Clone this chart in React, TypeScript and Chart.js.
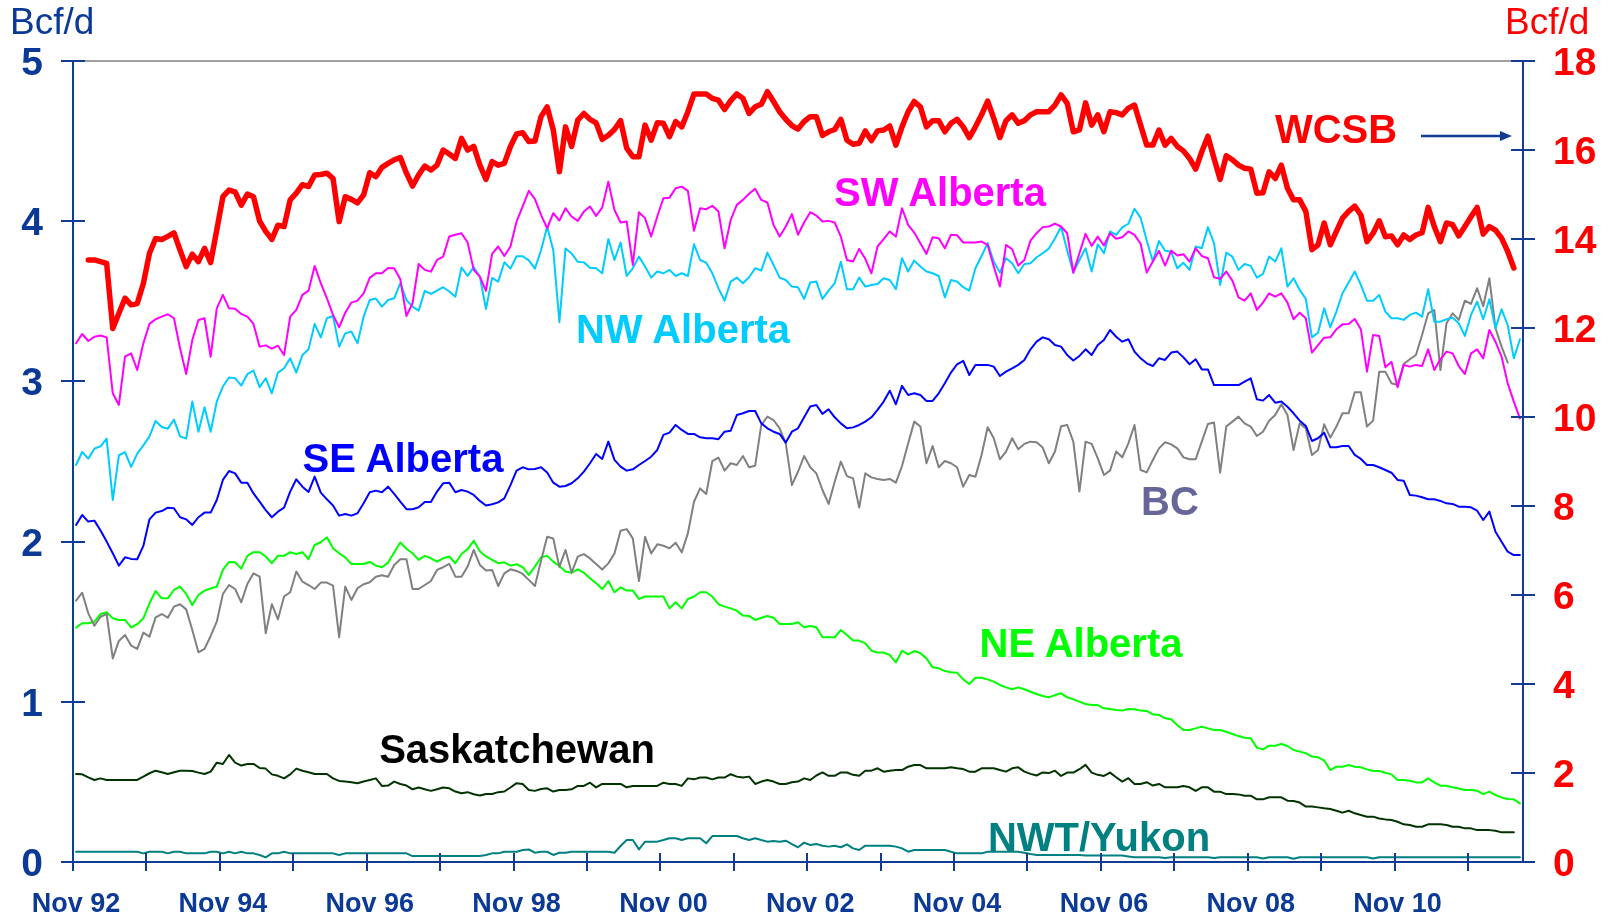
import React, { useEffect, useRef } from "react";
import { Chart, registerables } from "chart.js";

Chart.register(...registerables);

// ---------- categories (monthly, Nov 92 .. Jul 12) ----------
const MONTH_NAMES = ["Jan", "Feb", "Mar", "Apr", "May", "Jun", "Jul", "Aug", "Sep", "Oct", "Nov", "Dec"];
const START_MONTH = 10; // November
const START_YEAR = 1992;
const N_MONTHS = 237;
const CATEGORIES: string[] = Array.from({ length: N_MONTHS }, (_, i) => {
  const m = (START_MONTH + i) % 12;
  const y = START_YEAR + Math.floor((START_MONTH + i) / 12);
  return `${MONTH_NAMES[m]} ${String(y % 100).padStart(2, "0")}`;
});
const X_TICK_LABELS = ["Nov 92", "Nov 94", "Nov 96", "Nov 98", "Nov 00", "Nov 02", "Nov 04", "Nov 06", "Nov 08", "Nov 10"];
const LEFT_TICKS = [0, 1, 2, 3, 4, 5];
const RIGHT_TICKS = [0, 2, 4, 6, 8, 10, 12, 14, 16, 18];

// ---------- series (Bcf/d) ----------
const WCSB: (number | null)[] = [
  null, null, 13.53, 13.53, 13.49, 13.45, 11.99, 12.33, 12.67, 12.52, 12.55,
  13.0, 13.68, 14.01, 13.99, 14.06, 14.14, 13.75, 13.38, 13.66, 13.49,
  13.79, 13.47, 14.2, 14.95, 15.1, 15.06, 14.76, 15.01, 14.95, 14.4,
  14.17, 13.99, 14.31, 14.28, 14.88, 15.03, 15.22, 15.18, 15.44, 15.45,
  15.48, 15.36, 14.39, 14.95, 14.89, 14.81, 14.99, 15.49, 15.4, 15.61,
  15.7, 15.78, 15.83, 15.48, 15.19, 15.44, 15.64, 15.55, 15.66, 16.0,
  15.91, 15.81, 16.26, 16.0, 16.08, 15.66, 15.34, 15.74, 15.66, 15.7,
  16.08, 16.36, 16.39, 16.19, 16.2, 16.75, 16.97, 16.45, 15.51, 16.52,
  16.08, 16.67, 16.82, 16.69, 16.61, 16.24, 16.33, 16.46, 16.66, 16.04,
  15.85, 15.85, 16.56, 16.22, 16.61, 16.6, 16.3, 16.64, 16.52, 16.86,
  17.26, 17.26, 17.26, 17.16, 17.12, 16.91, 17.11, 17.26, 17.16, 16.82,
  16.97, 17.03, 17.31, 17.09, 16.86, 16.69, 16.55, 16.47, 16.64, 16.75,
  16.75, 16.33, 16.41, 16.46, 16.69, 16.22, 16.13, 16.15, 16.43, 16.21,
  16.43, 16.45, 16.54, 16.11, 16.52, 16.86, 17.09, 16.97, 16.52, 16.66,
  16.66, 16.41, 16.6, 16.69, 16.52, 16.28, 16.52, 16.79, 17.1, 16.71,
  16.28, 16.66, 16.79, 16.6, 16.66, 16.79, 16.86, 16.86, 16.86, 17.01,
  17.24, 17.05, 16.41, 16.45, 17.06, 16.56, 16.79, 16.41, 16.86, 16.84,
  16.79, 16.94, 17.01, 16.56, 16.11, 16.11, 16.45, 16.11, 16.26, 16.08,
  15.98, 15.81, 15.57, 15.96, 16.31, 15.81, 15.34, 15.87, 15.78, 15.66,
  15.59, 15.57, 15.03, 15.04, 15.51, 15.36, 15.66, 15.14, 14.88, 14.88,
  14.62, 13.76, 13.87, 14.36, 13.87, 14.17, 14.47, 14.62, 14.74, 14.54,
  13.94, 14.13, 14.41, 14.05, 14.07, 13.87, 14.09, 13.99, 14.09, 14.14,
  14.71, 14.28, 13.94, 14.36, 14.32, 14.07, 14.28, 14.5, 14.71, 14.11,
  14.28, 14.2, 14.02, 13.72, 13.35, null,
];

const SW_ALBERTA: (number | null)[] = [
  3.238, 3.296, 3.252, 3.279, 3.287, 3.275, 2.926, 2.853, 3.154, 3.175,
  3.071, 3.238, 3.359, 3.388, 3.404, 3.419, 3.394, 3.207, 3.046, 3.258,
  3.383, 3.394, 3.154, 3.456, 3.54, 3.456, 3.454, 3.421, 3.404, 3.359,
  3.217, 3.225, 3.204, 3.223, 3.165, 3.404, 3.446, 3.54, 3.567, 3.721,
  3.613, 3.519, 3.415, 3.338, 3.429, 3.492, 3.504, 3.55, 3.646, 3.675,
  3.675, 3.708, 3.706, 3.637, 3.408, 3.488, 3.733, 3.696, 3.685, 3.758,
  3.779, 3.904, 3.915, 3.925, 3.867, 3.696, 3.654, 3.565, 3.796, 3.842,
  3.783, 3.842, 3.998, 4.092, 4.19, 4.138, 4.04, 3.956, 4.05, 4.004,
  4.081, 4.029, 4.002, 4.06, 4.092, 4.033, 4.085, 4.247, 4.07, 3.992,
  3.998, 3.727, 4.056, 4.019, 3.904, 4.029, 4.143, 4.147, 4.206, 4.216,
  4.189, 3.94, 4.081, 4.075, 4.096, 4.06, 3.831, 4.008, 4.102, 4.133,
  4.171, 4.202, 4.133, 4.117, 3.977, 3.904, 3.967, 4.044, 3.915, 3.992,
  4.056, 4.035, 3.998, 4.002, 3.992, 3.904, 3.758, 3.748, 3.827, 3.765,
  3.675, 3.842, 3.888, 3.936, 3.904, 4.081, 3.977, 3.929, 3.863, 3.796,
  3.9, 3.894, 3.831, 3.915, 3.913, 3.867, 3.867, 3.867, 3.873, 3.852,
  3.717, 3.592, 3.852, 3.825, 3.723, 3.758, 3.879, 3.925, 3.963, 3.967,
  3.984, 3.967, 3.925, 3.679, 3.8, 3.921, 3.846, 3.904, 3.848, 3.925,
  3.89, 3.9, 3.936, 3.915, 3.859, 3.679, 3.748, 3.815, 3.723, 3.817,
  3.786, 3.794, 3.748, 3.831, 3.783, 3.769, 3.65, 3.64, 3.686, 3.629,
  3.525, 3.504, 3.55, 3.446, 3.492, 3.55, 3.529, 3.55, 3.492, 3.388,
  3.429, 3.394, 3.18, 3.227, 3.273, 3.275, 3.325, 3.356, 3.358, 3.39,
  3.325, 3.061, 3.29, 3.284, 3.088, 3.123, 2.964, 3.103, 3.092, 3.103,
  3.096, 3.2, 3.071, 3.138, 3.186, 3.175, 3.096, 3.046, 3.175, 3.2,
  3.144, 3.321, 3.248, 3.154, 2.988, 2.874, 2.769,
];

const NW_ALBERTA: (number | null)[] = [
  2.478, 2.559, 2.518, 2.58, 2.595, 2.643, 2.259, 2.539, 2.559, 2.466,
  2.549, 2.601, 2.657, 2.753, 2.715, 2.705, 2.761, 2.657, 2.643, 2.874,
  2.686, 2.838, 2.686, 2.874, 2.968, 3.024, 3.02, 2.974, 3.045, 3.068,
  2.964, 3.02, 2.926, 3.055, 3.082, 3.144, 3.055, 3.165, 3.2, 3.359,
  3.275, 3.394, 3.408, 3.217, 3.3, 3.311, 3.238, 3.404, 3.508, 3.517,
  3.467, 3.508, 3.519, 3.613, 3.508, 3.467, 3.442, 3.565, 3.546, 3.567,
  3.588, 3.561, 3.529, 3.711, 3.659, 3.713, 3.654, 3.452, 3.646, 3.623,
  3.744, 3.704, 3.781, 3.781, 3.756, 3.704, 3.819, 3.965, 3.819, 3.369,
  3.829, 3.798, 3.747, 3.743, 3.71, 3.706, 3.675, 3.889, 3.758, 3.867,
  3.658, 3.706, 3.779, 3.717, 3.648, 3.686, 3.675, 3.696, 3.658, 3.675,
  3.658, 3.856, 3.758, 3.741, 3.675, 3.581, 3.504, 3.623, 3.648, 3.613,
  3.65, 3.706, 3.692, 3.804, 3.727, 3.648, 3.633, 3.592, 3.588, 3.515,
  3.617, 3.623, 3.515, 3.567, 3.613, 3.747, 3.575, 3.575, 3.648, 3.592,
  3.602, 3.608, 3.644, 3.633, 3.575, 3.769, 3.686, 3.754, 3.717, 3.686,
  3.675, 3.658, 3.525, 3.633, 3.623, 3.588, 3.567, 3.706, 3.783, 3.863,
  3.747, 3.679, 3.769, 3.738, 3.675, 3.733, 3.738, 3.775, 3.8, 3.829,
  3.892, 3.965, 3.817, 3.679, 3.758, 3.831, 3.686, 3.856, 3.8, 3.936,
  3.915, 3.961, 3.984, 4.078, 4.021, 3.88, 3.748, 3.877, 3.815, 3.809,
  3.706, 3.74, 3.696, 3.842, 3.831, 3.963, 3.863, 3.602, 3.804, 3.779,
  3.696, 3.733, 3.721, 3.648, 3.671, 3.779, 3.748, 3.831, 3.592, 3.644,
  3.571, 3.515, 3.275, 3.304, 3.456, 3.338, 3.436, 3.55, 3.617, 3.686,
  3.602, 3.504, 3.504, 3.54, 3.436, 3.394, 3.394, 3.384, 3.415, 3.429,
  3.404, 3.575, 3.373, 3.373, 3.388, 3.398, 3.363, 3.284, 3.415, 3.498,
  3.388, 3.513, 3.332, 3.45, 3.352, 3.144, 3.263,
];

const SE_ALBERTA: (number | null)[] = [
  2.104, 2.166, 2.125, 2.131, 2.069, 2.0, 1.927, 1.85, 1.902, 1.892,
  1.89, 1.973, 2.139, 2.181, 2.191, 2.212, 2.208, 2.152, 2.139, 2.104,
  2.152, 2.181, 2.181, 2.26, 2.385, 2.441, 2.426, 2.368, 2.368, 2.301,
  2.249, 2.197, 2.152, 2.187, 2.212, 2.312, 2.389, 2.343, 2.31, 2.406,
  2.306, 2.264, 2.225, 2.162, 2.172, 2.162, 2.177, 2.239, 2.308, 2.318,
  2.308, 2.343, 2.298, 2.249, 2.202, 2.202, 2.214, 2.247, 2.247, 2.312,
  2.364, 2.368, 2.308, 2.322, 2.312, 2.291, 2.254, 2.225, 2.233, 2.245,
  2.27, 2.353, 2.443, 2.464, 2.451, 2.453, 2.464, 2.431, 2.368, 2.343,
  2.347, 2.364, 2.395, 2.437, 2.489, 2.547, 2.516, 2.624, 2.51, 2.468,
  2.443, 2.451, 2.478, 2.503, 2.53, 2.572, 2.666, 2.68, 2.728, 2.697,
  2.672, 2.672, 2.651, 2.645, 2.645, 2.639, 2.686, 2.692, 2.79, 2.801,
  2.815, 2.815, 2.738, 2.707, 2.686, 2.672, 2.618, 2.686, 2.707, 2.776,
  2.843, 2.853, 2.797, 2.826, 2.776, 2.738, 2.707, 2.713, 2.728, 2.749,
  2.776, 2.822, 2.874, 2.942, 2.857, 2.972, 2.915, 2.926, 2.915, 2.878,
  2.878, 2.926, 2.988, 3.055, 3.107, 3.128, 3.04, 3.103, 3.103, 3.103,
  3.092, 3.034, 3.061, 3.082, 3.103, 3.134, 3.2, 3.248, 3.275, 3.263,
  3.227, 3.217, 3.165, 3.13, 3.159, 3.2, 3.165, 3.227, 3.259, 3.321,
  3.279, 3.248, 3.263, 3.186, 3.144, 3.113, 3.096, 3.144, 3.134, 3.18,
  3.186, 3.15, 3.107, 3.138, 3.075, 3.075, 2.977, 2.977, 2.977, 2.977,
  2.977, 2.998, 3.019, 2.888, 2.88, 2.915, 2.867, 2.874, 2.842, 2.801,
  2.755, 2.722, 2.628, 2.645, 2.68, 2.589, 2.589, 2.597, 2.597, 2.541,
  2.516, 2.478, 2.478, 2.464, 2.447, 2.43, 2.385, 2.38, 2.291, 2.287,
  2.277, 2.264, 2.264, 2.254, 2.239, 2.235, 2.218, 2.218, 2.214, 2.193,
  2.135, 2.187, 2.062, 1.999, 1.937, 1.916, 1.916,
];

const BC: (number | null)[] = [
  1.631, 1.681, 1.552, 1.475, 1.531, 1.548, 1.271, 1.38, 1.417, 1.351,
  1.33, 1.432, 1.407, 1.527, 1.548, 1.525, 1.594, 1.609, 1.577, 1.448,
  1.309, 1.33, 1.411, 1.5, 1.673, 1.729, 1.704, 1.621, 1.736, 1.802,
  1.781, 1.428, 1.609, 1.515, 1.657, 1.684, 1.813, 1.75, 1.729, 1.704,
  1.744, 1.744, 1.725, 1.403, 1.719, 1.636, 1.709, 1.734, 1.746, 1.781,
  1.79, 1.781, 1.854, 1.89, 1.89, 1.704, 1.704, 1.729, 1.754, 1.823,
  1.84, 1.861, 1.781, 1.781, 1.844, 1.948, 1.854, 1.819, 1.823, 1.723,
  1.802, 1.827, 1.817, 1.798, 1.761, 1.723, 1.88, 2.03, 2.019, 1.842,
  1.948, 1.806, 1.906, 1.922, 1.895, 1.86, 1.826, 1.864, 1.926, 2.068,
  2.078, 2.02, 1.754, 2.03, 1.926, 1.983, 1.974, 1.958, 1.993, 1.933,
  2.051, 2.249, 2.332, 2.297, 2.503, 2.524, 2.443, 2.489, 2.478, 2.534,
  2.464, 2.474, 2.728, 2.78, 2.759, 2.707, 2.613, 2.353, 2.436, 2.534,
  2.464, 2.426, 2.322, 2.235, 2.374, 2.499, 2.409, 2.395, 2.212, 2.426,
  2.401, 2.391, 2.385, 2.391, 2.368, 2.472, 2.613, 2.749, 2.718, 2.489,
  2.597, 2.464, 2.503, 2.489, 2.464, 2.343, 2.416, 2.405, 2.541, 2.714,
  2.645, 2.514, 2.562, 2.645, 2.576, 2.61, 2.624, 2.62, 2.587, 2.489,
  2.562, 2.72, 2.728, 2.624, 2.312, 2.624, 2.61, 2.52, 2.416, 2.443,
  2.562, 2.526, 2.613, 2.728, 2.447, 2.432, 2.509, 2.582, 2.62, 2.607,
  2.582, 2.526, 2.514, 2.514, 2.624, 2.734, 2.743, 2.43, 2.718, 2.749,
  2.78, 2.738, 2.718, 2.659, 2.686, 2.755, 2.79, 2.857, 2.79, 2.572,
  2.738, 2.707, 2.541, 2.572, 2.732, 2.649, 2.718, 2.801, 2.801, 2.932,
  2.932, 2.718, 2.755, 3.061, 3.061, 2.988, 2.977, 3.109, 3.138, 3.165,
  3.29, 3.425, 3.446, 3.071, 3.363, 3.425, 3.384, 3.504, 3.484, 3.582,
  3.469, 3.644, 3.332, 3.217, 3.117, null, null,
];

const NE_ALBERTA: (number | null)[] = [
  1.463, 1.49, 1.49, 1.5, 1.548, 1.559, 1.521, 1.511, 1.511, 1.465,
  1.484, 1.521, 1.615, 1.692, 1.646, 1.646, 1.698, 1.719, 1.673, 1.604,
  1.667, 1.694, 1.707, 1.719, 1.823, 1.873, 1.871, 1.831, 1.911, 1.934,
  1.934, 1.907, 1.865, 1.911, 1.911, 1.934, 1.923, 1.934, 1.89, 1.979,
  1.996, 2.027, 1.958, 1.927, 1.902, 1.86, 1.86, 1.86, 1.873, 1.85,
  1.84, 1.869, 1.932, 1.994, 1.955, 1.927, 1.886, 1.911, 1.896, 1.875,
  1.896, 1.907, 1.865, 1.923, 1.953, 2.005, 1.94, 1.907, 1.886, 1.865,
  1.871, 1.85, 1.859, 1.84, 1.792, 1.844, 1.902, 1.911, 1.875, 1.848,
  1.813, 1.806, 1.827, 1.806, 1.771, 1.74, 1.704, 1.754, 1.684, 1.715,
  1.694, 1.694, 1.642, 1.657, 1.657, 1.657, 1.657, 1.583, 1.621, 1.583,
  1.642, 1.657, 1.684, 1.684, 1.657, 1.609, 1.594, 1.583, 1.569, 1.538,
  1.536, 1.511, 1.525, 1.536, 1.525, 1.486, 1.486, 1.486, 1.496, 1.465,
  1.473, 1.465, 1.403, 1.403, 1.403, 1.448, 1.417, 1.382, 1.382, 1.365,
  1.319, 1.307, 1.307, 1.292, 1.246, 1.319, 1.296, 1.317, 1.303, 1.271,
  1.215, 1.209, 1.192, 1.184, 1.182, 1.14, 1.111, 1.15, 1.15, 1.14,
  1.126, 1.105, 1.09, 1.078, 1.09, 1.078, 1.063, 1.049, 1.036, 1.028,
  1.042, 1.053, 1.028, 1.015, 1.001, 0.986, 0.98, 0.98, 0.959, 0.955,
  0.949, 0.945, 0.955, 0.953, 0.945, 0.943, 0.922, 0.918, 0.897, 0.891,
  0.855, 0.824, 0.824, 0.834, 0.845, 0.834, 0.824, 0.824, 0.813, 0.799,
  0.786, 0.776, 0.772, 0.714, 0.703, 0.726, 0.726, 0.737, 0.724, 0.699,
  0.689, 0.679, 0.658, 0.654, 0.633, 0.574, 0.595, 0.595, 0.606, 0.595,
  0.591, 0.578, 0.568, 0.568, 0.557, 0.547, 0.512, 0.512, 0.507, 0.497,
  0.497, 0.522, 0.497, 0.476, 0.476, 0.466, 0.459, 0.449, 0.449, 0.445,
  0.424, 0.439, 0.418, 0.403, 0.393, 0.391, 0.366,
];

const SASKATCHEWAN: (number | null)[] = [
  0.549, 0.547, 0.528, 0.512, 0.522, 0.512, 0.512, 0.512, 0.512, 0.512,
  0.512, 0.533, 0.554, 0.57, 0.56, 0.549, 0.56, 0.57, 0.57, 0.568,
  0.558, 0.549, 0.564, 0.62, 0.612, 0.668, 0.62, 0.602, 0.612, 0.612,
  0.587, 0.583, 0.547, 0.538, 0.522, 0.547, 0.583, 0.57, 0.56, 0.549,
  0.549, 0.549, 0.522, 0.506, 0.502, 0.498, 0.492, 0.502, 0.512, 0.522,
  0.475, 0.477, 0.502, 0.487, 0.477, 0.454, 0.465, 0.454, 0.444, 0.454,
  0.465, 0.46, 0.44, 0.429, 0.436, 0.423, 0.415, 0.425, 0.425, 0.436,
  0.44, 0.465, 0.492, 0.487, 0.45, 0.444, 0.456, 0.46, 0.44, 0.45,
  0.45, 0.454, 0.475, 0.475, 0.495, 0.466, 0.487, 0.487, 0.487, 0.487,
  0.466, 0.475, 0.475, 0.475, 0.475, 0.475, 0.495, 0.487, 0.487, 0.475,
  0.522, 0.516, 0.527, 0.527, 0.516, 0.527, 0.527, 0.548, 0.533, 0.527,
  0.533, 0.487, 0.502, 0.512, 0.502, 0.487, 0.487, 0.498, 0.502, 0.522,
  0.512, 0.54, 0.559, 0.538, 0.538, 0.559, 0.559, 0.544, 0.538, 0.57,
  0.57, 0.585, 0.564, 0.57, 0.574, 0.574, 0.595, 0.605, 0.605, 0.585,
  0.585, 0.585, 0.585, 0.591, 0.585, 0.58, 0.564, 0.564, 0.585, 0.585,
  0.585, 0.574, 0.564, 0.585, 0.591, 0.564, 0.55, 0.54, 0.559, 0.555,
  0.57, 0.537, 0.558, 0.558, 0.579, 0.606, 0.558, 0.544, 0.537, 0.558,
  0.529, 0.502, 0.523, 0.487, 0.487, 0.498, 0.477, 0.487, 0.466, 0.466,
  0.466, 0.475, 0.466, 0.444, 0.466, 0.466, 0.439, 0.439, 0.424, 0.424,
  0.422, 0.414, 0.414, 0.391, 0.391, 0.404, 0.404, 0.404, 0.383, 0.381,
  0.371, 0.346, 0.346, 0.341, 0.335, 0.331, 0.32, 0.308, 0.32, 0.304,
  0.293, 0.283, 0.283, 0.272, 0.266, 0.262, 0.251, 0.235, 0.231, 0.22,
  0.22, 0.235, 0.235, 0.235, 0.231, 0.22, 0.22, 0.21, 0.21, 0.199,
  0.199, 0.199, 0.195, 0.185, 0.185, 0.185, null,
];

const NWT_YUKON: (number | null)[] = [
  0.064, 0.064, 0.064, 0.064, 0.064, 0.064, 0.064, 0.064, 0.064, 0.064,
  0.064, 0.054, 0.064, 0.064, 0.064, 0.054, 0.064, 0.064, 0.054, 0.054,
  0.054, 0.054, 0.064, 0.064, 0.054, 0.064, 0.054, 0.064, 0.054, 0.054,
  0.044, 0.029, 0.054, 0.054, 0.064, 0.054, 0.054, 0.054, 0.054, 0.054,
  0.054, 0.054, 0.054, 0.044, 0.054, 0.054, 0.054, 0.054, 0.054, 0.054,
  0.054, 0.054, 0.054, 0.054, 0.054, 0.037, 0.037, 0.037, 0.037, 0.037,
  0.037, 0.037, 0.037, 0.037, 0.037, 0.037, 0.037, 0.044, 0.054, 0.054,
  0.064, 0.064, 0.064, 0.075, 0.078, 0.058, 0.064, 0.064, 0.044, 0.058,
  0.058, 0.064, 0.064, 0.064, 0.064, 0.064, 0.064, 0.064, 0.058, 0.1,
  0.137, 0.137, 0.079, 0.127, 0.127, 0.127, 0.137, 0.148, 0.148, 0.137,
  0.148, 0.148, 0.148, 0.117, 0.162, 0.162, 0.162, 0.162, 0.162, 0.148,
  0.137, 0.148, 0.137, 0.127, 0.131, 0.127, 0.133, 0.112, 0.092, 0.121,
  0.106, 0.112, 0.102, 0.096, 0.102, 0.092, 0.11, 0.085, 0.075, 0.102,
  0.102, 0.102, 0.102, 0.102, 0.096, 0.085, 0.064, 0.075, 0.075, 0.075,
  0.075, 0.075, 0.075, 0.064, 0.054, 0.054, 0.054, 0.054, 0.054, 0.064,
  0.064, 0.064, 0.064, 0.064, 0.064, 0.058, 0.05, 0.044, 0.044, 0.044,
  0.044, 0.044, 0.044, 0.044, 0.044, 0.04, 0.04, 0.04, 0.04, 0.04,
  0.04, 0.04, 0.035, 0.03, 0.03, 0.03, 0.03, 0.03, 0.025, 0.03,
  0.03, 0.03, 0.03, 0.03, 0.03, 0.03, 0.025, 0.03, 0.03, 0.03,
  0.03, 0.03, 0.03, 0.03, 0.022, 0.03, 0.03, 0.03, 0.03, 0.02,
  0.03, 0.03, 0.03, 0.03, 0.03, 0.03, 0.03, 0.03, 0.03, 0.03,
  0.03, 0.03, 0.022, 0.03, 0.03, 0.03, 0.03, 0.03, 0.03, 0.03,
  0.03, 0.03, 0.03, 0.03, 0.03, 0.03, 0.03, 0.03, 0.03, 0.03,
  0.03, 0.03, 0.03, 0.03, 0.03, 0.03, 0.03,
];

// ---------- styling ----------
const W = 1616;
const H = 918;
const AXIS_COLOR = "#123C94";
const LABEL_BLUE = "#0B3A96";
const FONT = "'Liberation Sans', Arial, Helvetica, sans-serif";
const PLOT = { left: 73, right: 1523, top: 61, bottom: 862 };
const TICK_FONT_SIZE = 39;
const TICK_LABEL_GAP = 30;

type SeriesDef = { name: string; data: (number | null)[]; color: string; width: number; axis: string };
const SERIES: SeriesDef[] = [
  { name: "WCSB", data: WCSB, color: "#FF0000", width: 5.5, axis: "y2" },
  { name: "SW Alberta", data: SW_ALBERTA, color: "#FF00FF", width: 2, axis: "y" },
  { name: "NW Alberta", data: NW_ALBERTA, color: "#00CCFF", width: 2, axis: "y" },
  { name: "SE Alberta", data: SE_ALBERTA, color: "#0000FF", width: 2, axis: "y" },
  { name: "BC", data: BC, color: "#808080", width: 2, axis: "y" },
  { name: "NE Alberta", data: NE_ALBERTA, color: "#00FF00", width: 2, axis: "y" },
  { name: "Saskatchewan", data: SASKATCHEWAN, color: "#003300", width: 2, axis: "y" },
  { name: "NWT/Yukon", data: NWT_YUKON, color: "#008080", width: 2, axis: "y" },
];

const SERIES_LABELS = [
  { text: "WCSB", color: "#FF0000", x: 1336, y: 129 },
  { text: "SW Alberta", color: "#FF00FF", x: 940, y: 192 },
  { text: "NW Alberta", color: "#00CCFF", x: 683, y: 329 },
  { text: "SE Alberta", color: "#0000FF", x: 403, y: 458 },
  { text: "BC", color: "#666699", x: 1170, y: 501 },
  { text: "NE Alberta", color: "#00FF00", x: 1081, y: 643 },
  { text: "Saskatchewan", color: "#000000", x: 517, y: 749 },
  { text: "NWT/Yukon", color: "#008080", x: 1099, y: 837 },
];

const X_LABEL_INDEX = X_TICK_LABELS.map((l) => CATEGORIES.indexOf(l));
const YEAR_TICK_POS = CATEGORIES.map((c, i) => (c.startsWith("Nov") ? i - 0.5 : null)).filter(
  (v): v is number => v !== null
);

// Crossing tick marks on all three axes plus y-axis numbers (cap-centred on the value).
const axisDecor = {
  id: "axisDecor",
  afterDraw(chart: any) {
    const { ctx, scales } = chart;
    const x = scales.x;
    const y = scales.y;
    const y2 = scales.y2;
    ctx.save();
    ctx.strokeStyle = AXIS_COLOR;
    ctx.lineWidth = 2;
    ctx.beginPath();
    const lx = x.getPixelForValue(x.min);
    const rx = x.getPixelForValue(x.max);
    LEFT_TICKS.forEach((v) => {
      const py = Math.round(y.getPixelForValue(v));
      ctx.moveTo(lx - 12, py);
      ctx.lineTo(lx + 12, py);
    });
    RIGHT_TICKS.forEach((v) => {
      const py = Math.round(y2.getPixelForValue(v));
      ctx.moveTo(rx - 12, py);
      ctx.lineTo(rx + 12, py);
    });
    const by = y.getPixelForValue(0);
    YEAR_TICK_POS.forEach((v) => {
      const px = Math.round(x.getPixelForValue(v));
      ctx.moveTo(px, by - 9);
      ctx.lineTo(px, by + 9);
    });
    ctx.stroke();

    ctx.font = `bold ${TICK_FONT_SIZE}px ${FONT}`;
    ctx.textBaseline = "alphabetic";
    const capHalf = TICK_FONT_SIZE * 0.358;
    ctx.fillStyle = LABEL_BLUE;
    ctx.textAlign = "right";
    LEFT_TICKS.forEach((v) => {
      ctx.fillText(String(v), lx - TICK_LABEL_GAP, y.getPixelForValue(v) + capHalf);
    });
    ctx.fillStyle = "#FF0000";
    ctx.textAlign = "left";
    RIGHT_TICKS.forEach((v) => {
      ctx.fillText(String(v), rx + TICK_LABEL_GAP, y2.getPixelForValue(v) + capHalf);
    });
    ctx.restore();
  },
};

export default function App() {
  const canvasRef = useRef<HTMLCanvasElement | null>(null);

  useEffect(() => {
    if (!canvasRef.current) return;
    const datasets = SERIES.map((s) => ({
      label: s.name,
      data: s.data.map((v, i) => ({ x: i, y: v })),
      borderColor: s.color,
      backgroundColor: s.color,
      borderWidth: s.width,
      pointRadius: 0,
      tension: 0,
      spanGaps: false,
      yAxisID: s.axis,
      borderJoinStyle: "round" as const,
      borderCapStyle: "round" as const,
    }));

    const chart = new Chart(canvasRef.current, {
      type: "line",
      data: { datasets },
      plugins: [axisDecor],
      options: {
        animation: false,
        responsive: true,
        maintainAspectRatio: false,
        devicePixelRatio: 1,
        layout: { padding: { top: PLOT.top, left: 0, right: 0, bottom: 0 } },
        plugins: { legend: { display: false }, tooltip: { enabled: false } },
        scales: {
          x: {
            type: "linear",
            position: "bottom",
            min: -0.5,
            max: N_MONTHS - 0.5,
            afterBuildTicks: (axis: any) => {
              axis.ticks = X_LABEL_INDEX.map((v) => ({ value: v }));
            },
            afterFit: (axis: any) => {
              axis.height = H - PLOT.bottom;
            },
            ticks: {
              autoSkip: false,
              maxRotation: 0,
              padding: 26,
              color: LABEL_BLUE,
              font: { family: FONT, size: 27, weight: "bold" },
              callback: (value: any) => CATEGORIES[Math.round(Number(value))] ?? "",
            },
            grid: { display: false, drawTicks: false },
            border: { display: true, color: AXIS_COLOR, width: 2 },
          },
          y: {
            type: "linear",
            position: "left",
            min: 0,
            max: 5,
            afterFit: (axis: any) => {
              axis.width = PLOT.left;
            },
            ticks: { stepSize: 1, display: false },
            grid: {
              display: true,
              drawTicks: false,
              lineWidth: 2,
              color: (ctx: any) => (ctx.tick && ctx.tick.value === 5 ? "#A0A0A0" : "rgba(0,0,0,0)"),
            },
            border: { display: true, color: AXIS_COLOR, width: 2 },
          },
          y2: {
            type: "linear",
            position: "right",
            min: 0,
            max: 18,
            afterFit: (axis: any) => {
              axis.width = W - PLOT.right;
            },
            ticks: { stepSize: 2, display: false },
            grid: { display: false, drawTicks: false },
            border: { display: true, color: AXIS_COLOR, width: 2 },
          },
        },
      },
    });
    return () => chart.destroy();
  }, []);

  const labelStyle = (color: string, x: number, y: number): React.CSSProperties => ({
    position: "absolute",
    left: x,
    top: y,
    transform: "translate(-50%, -50%)",
    color,
    fontFamily: FONT,
    fontWeight: "bold",
    fontSize: 40,
    lineHeight: 1,
    whiteSpace: "nowrap",
    pointerEvents: "none",
  });

  const unitStyle = (color: string, left: number): React.CSSProperties => ({
    position: "absolute",
    left,
    top: 3,
    color,
    fontFamily: FONT,
    fontSize: 37,
    lineHeight: 1,
    whiteSpace: "nowrap",
  });

  return (
    <div style={{ position: "fixed", left: 0, top: 0, width: W, height: H, background: "#ffffff", overflow: "hidden" }}>
      <canvas ref={canvasRef} style={{ position: "absolute", left: 0, top: 0, width: W, height: H }} />
      <div style={unitStyle(LABEL_BLUE, 10)}>Bcf/d</div>
      <div style={unitStyle("#FF0000", 1505)}>Bcf/d</div>
      {SERIES_LABELS.map((l) => (
        <div key={l.text} style={labelStyle(l.color, l.x, l.y)}>
          {l.text}
        </div>
      ))}
      <svg width={W} height={H} style={{ position: "absolute", left: 0, top: 0, pointerEvents: "none" }}>
        <line x1={1421} y1={136} x2={1502} y2={136} stroke={AXIS_COLOR} strokeWidth={2.5} />
        <polygon points="1512,136 1500,131 1500,141" fill={AXIS_COLOR} />
      </svg>
    </div>
  );
}
